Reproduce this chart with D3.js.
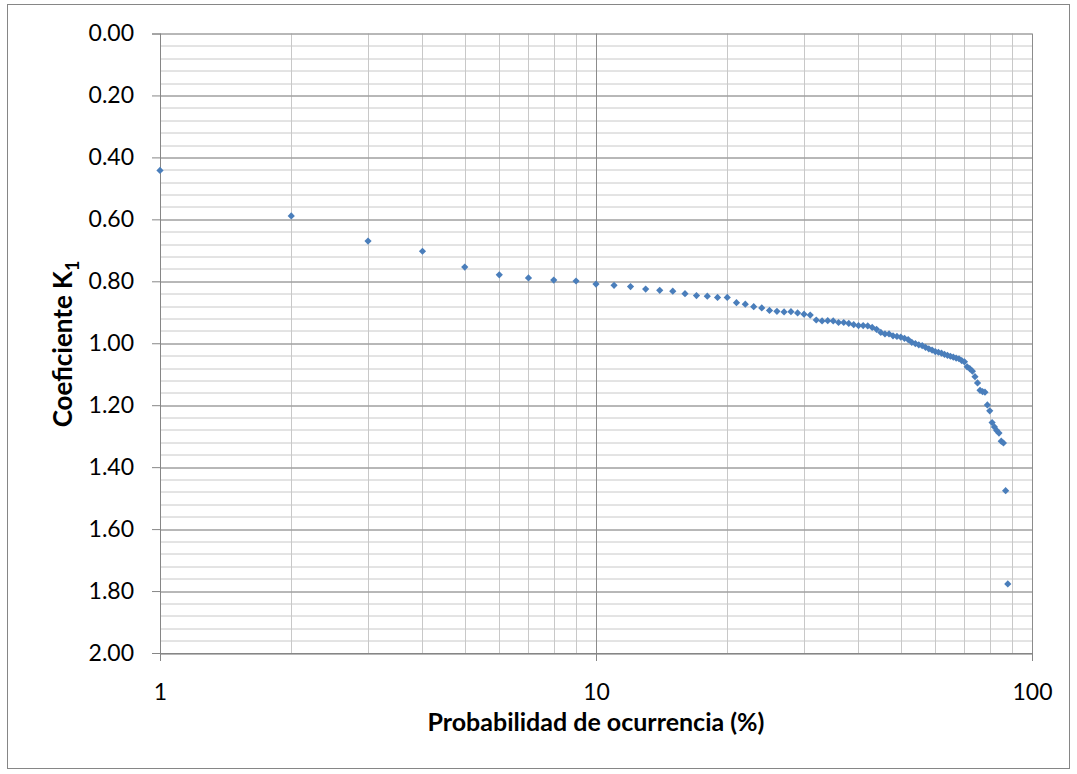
<!DOCTYPE html>
<html>
<head>
<meta charset="utf-8">
<script src="https://cdnjs.cloudflare.com/ajax/libs/d3/7.8.5/d3.min.js"></script>
<style>
  body { margin: 0; background: #fff; }
  svg { display: block; font-family: Lato, "Open Sans", sans-serif; }
</style>
</head>
<body>
<div id="chart"></div>
<script>
// probability of occurrence (%) for each point
var probs = [1, 2, 3, 4, 5, 6, 7, 8, 9, 10,
  11, 12, 13, 14, 15, 16, 17, 18, 19, 20,
  21, 22, 23, 24, 25, 26, 27, 28, 29, 30,
  31, 32, 33, 34, 35, 36, 37, 38, 39, 40,
  41, 42, 43, 44, 45, 46, 47, 48, 49, 50,
  51, 52, 53, 54, 55, 56, 57, 58, 59, 60,
  61, 62, 63, 64, 65, 66, 67, 68, 69, 70,
  71, 72, 73, 74, 75, 76, 77, 78, 79, 80,
  81, 82, 83, 84, 85, 86, 87, 88];

// coefficient K1
var k1Values = [0.442, 0.589, 0.670, 0.703, 0.754, 0.779, 0.789, 0.796, 0.799, 0.809,
  0.813, 0.817, 0.825, 0.829, 0.832, 0.840, 0.846, 0.848, 0.852, 0.852,
  0.869, 0.874, 0.882, 0.886, 0.894, 0.897, 0.899, 0.898, 0.902, 0.906,
  0.909, 0.925, 0.928, 0.927, 0.928, 0.933, 0.933, 0.936, 0.940, 0.943,
  0.943, 0.944, 0.949, 0.955, 0.965, 0.970, 0.970, 0.976, 0.978, 0.980,
  0.984, 0.988, 0.997, 1.001, 1.005, 1.008, 1.013, 1.018, 1.022, 1.027,
  1.029, 1.032, 1.036, 1.039, 1.042, 1.045, 1.048, 1.050, 1.056, 1.060,
  1.076, 1.082, 1.090, 1.108, 1.128, 1.152, 1.156, 1.158, 1.199, 1.218,
  1.256, 1.270, 1.282, 1.290, 1.316, 1.322, 1.476, 1.777];

// axis ticks
var xMajorTicks = [1, 10, 100];
var xMinorTicks = [2, 3, 4, 5, 6, 7, 8, 9, 20, 30, 40, 50, 60, 70, 80, 90];
var yMajorTicks = [0, 0.2, 0.4, 0.6, 0.8, 1.0, 1.2, 1.4, 1.6, 1.8, 2.0];
var yMinorStep = 0.04;

var xTitle = "Probabilidad de ocurrencia (%)";
var yTitle = "Coeficiente K";
var yTitleSub = "1";

var width = 1077, height = 774;
var margin = {top: 33.5, right: 45, bottom: 121, left: 160};
var w = width - margin.left - margin.right,
    h = height - margin.top - margin.bottom;

var svg = d3.select("#chart").append("svg")
    .attr("width", width)
    .attr("height", height);

// outer chart border
svg.append("rect")
    .attr("x", 7.5).attr("y", 4.5)
    .attr("width", 1062).attr("height", 764)
    .attr("fill", "#fff")
    .attr("stroke", "#868686");

var g = svg.append("g")
    .attr("transform", "translate(" + margin.left + "," + margin.top + ")");

var x = d3.scaleLog().domain([1, 100]).range([0, w]);
var y = d3.scaleLinear().domain([0, 2]).range([0, h]);

var yMinor = d3.range(0, 2.0001, yMinorStep);

// minor gridlines
g.append("g").selectAll("line")
    .data(yMinor)
    .enter().append("line")
    .attr("x1", 0).attr("x2", w)
    .attr("y1", function(d) { return Math.round(y(d)) + 0.5; })
    .attr("y2", function(d) { return Math.round(y(d)) + 0.5; })
    .attr("stroke", "#c8c8c8");

g.append("g").selectAll("line")
    .data(xMinorTicks)
    .enter().append("line")
    .attr("x1", function(d) { return Math.round(x(d)) + 0.5; })
    .attr("x2", function(d) { return Math.round(x(d)) + 0.5; })
    .attr("y1", 0).attr("y2", h)
    .attr("stroke", "#c8c8c8");

// major gridlines
g.append("g").selectAll("line")
    .data(yMajorTicks)
    .enter().append("line")
    .attr("x1", 0).attr("x2", w)
    .attr("y1", function(d) { return Math.round(y(d)) + 0.5; })
    .attr("y2", function(d) { return Math.round(y(d)) + 0.5; })
    .attr("stroke", "#8c8c8c");

g.append("g").selectAll("line")
    .data(xMajorTicks)
    .enter().append("line")
    .attr("x1", function(d) { return Math.round(x(d)) + 0.5; })
    .attr("x2", function(d) { return Math.round(x(d)) + 0.5; })
    .attr("y1", 0).attr("y2", h)
    .attr("stroke", "#8c8c8c");

// y axis
g.append("g")
    .attr("class", "axis")
    .call(d3.axisLeft(y).tickValues(yMajorTicks).tickFormat(d3.format(".2f")).tickSize(8).tickPadding(18));

// x axis
g.append("g")
    .attr("class", "axis")
    .attr("transform", "translate(0," + h + ")")
    .call(d3.axisBottom(x).tickValues(xMajorTicks).tickFormat(d3.format("d")).tickSize(8).tickPadding(23));

g.selectAll(".axis path, .axis line").attr("stroke", "#868686");
g.selectAll(".axis text")
    .attr("fill", "#000")
    .style("font-size", "23px")
    .style("font-family", "Lato, 'Open Sans', sans-serif");

// points
var points = probs.map(function(p, i) { return {p: p, k: k1Values[i]}; });

g.append("g").selectAll("path")
    .data(points)
    .enter().append("path")
    .attr("d", d3.symbol().type(d3.symbolSquare).size(26))
    .attr("transform", function(d) { return "translate(" + x(d.p) + "," + y(d.k) + ") rotate(45)"; })
    .attr("fill", "#4a7ebb");

// axis titles
svg.append("text")
    .attr("x", 596)
    .attr("y", 731)
    .attr("text-anchor", "middle")
    .style("font-weight", "bold")
    .style("font-size", "25px")
    .text(xTitle);

var yt = svg.append("text")
    .attr("transform", "translate(72,344) rotate(-90)")
    .attr("text-anchor", "middle")
    .style("font-weight", "bold")
    .style("font-size", "26px");
yt.append("tspan").text(yTitle);
yt.append("tspan")
    .attr("dy", 7)
    .style("font-size", "18px")
    .text(yTitleSub);
</script>
</body>
</html>
